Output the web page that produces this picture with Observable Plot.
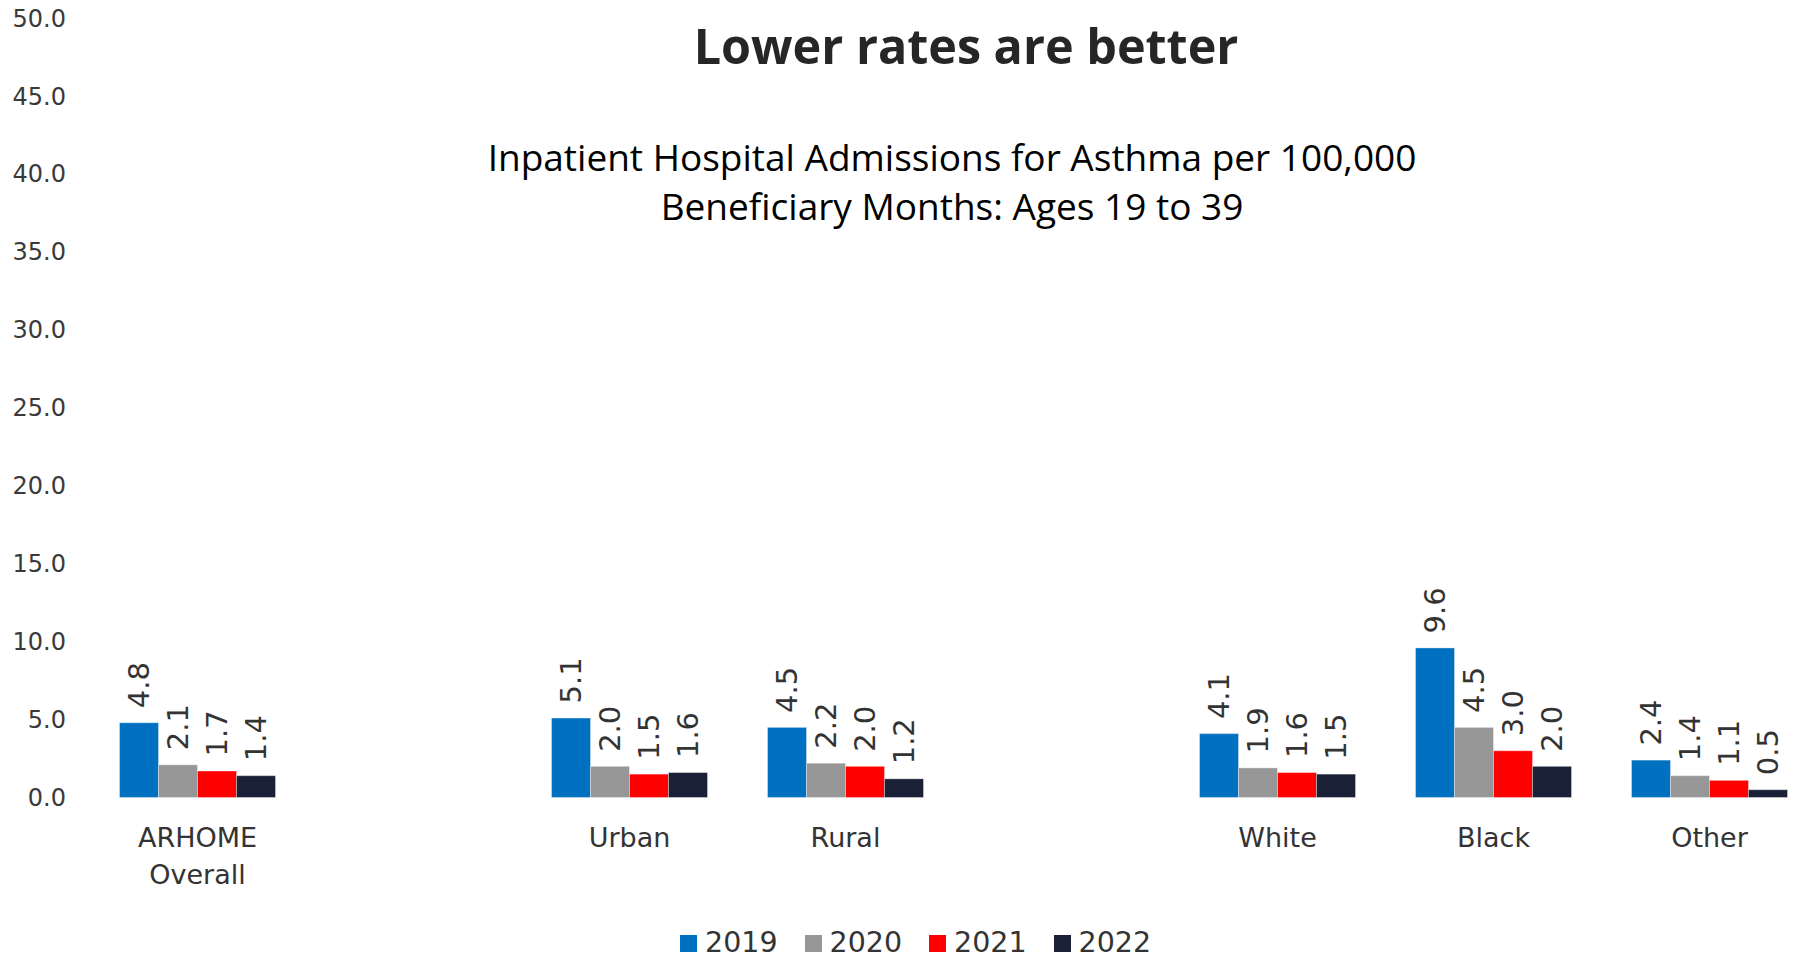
<!DOCTYPE html>
<html><head><meta charset="utf-8">
<script src="https://cdn.jsdelivr.net/npm/d3@7"></script>
<script src="https://cdn.jsdelivr.net/npm/@observablehq/plot@0.6"></script>
<style>
html,body{margin:0;padding:0;background:#fff;overflow:hidden}
#wrap{position:relative;width:1793px;height:959px;overflow:hidden}
#chart{position:absolute;left:0;top:0}
#chart svg{max-width:none !important}
.title{position:absolute;left:966px;top:21px;transform:translateX(-50%);white-space:nowrap;font-family:"Open Sans";font-weight:700;font-size:48.5px;line-height:1;color:#262626}
.subtitle{position:absolute;left:952px;top:132px;transform:translateX(-50%);white-space:nowrap;text-align:center;font-family:"Open Sans";font-size:37px;line-height:49px;color:#000}
.legend{position:absolute;left:680px;top:929px;display:flex;align-items:center;gap:27px;font-family:"DejaVu Sans";font-size:28.5px;line-height:1;color:#333}
.legend .item{display:flex;align-items:center}
.legend .sw{width:17px;height:17px;margin-right:8px}
</style></head>
<body><div id="wrap"><div id="chart"></div>
<div class="title">Lower rates are better</div>
<div class="subtitle">Inpatient Hospital Admissions for Asthma per 100,000<br>Beneficiary Months: Ages 19 to 39</div>
<div class="legend" id="legend"></div></div>
<script>
const categories = ["ARHOME Overall", "Urban", "Rural", "White", "Black", "Other"];
const slots = ["ARHOME Overall", "gap1", "Urban", "Rural", "gap2", "White", "Black", "Other"];
const slotLabels = ["ARHOME\nOverall", "", "Urban", "Rural", "", "White", "Black", "Other"];
const years = ["2019", "2020", "2021", "2022"];
const v2019 = [4.8, 5.1, 4.5, 4.1, 9.6, 2.4];
const v2020 = [2.1, 2.0, 2.2, 1.9, 4.5, 1.4];
const v2021 = [1.7, 1.5, 2.0, 1.6, 3.0, 1.1];
const v2022 = [1.4, 1.6, 1.2, 1.5, 2.0, 0.5];
const yTicks = [0, 5, 10, 15, 20, 25, 30, 35, 40, 45, 50];
const colors = ["#0070C0", "#979797", "#FF0000", "#1A2035"];

const series = [v2019, v2020, v2021, v2022];
const rows = [];
categories.forEach((cat, i) => {
  years.forEach((year, j) => rows.push({cat, year, value: series[j][i]}));
});
const labelOf = new Map(slots.map((s, i) => [s, slotLabels[i]]));

const chart = Plot.plot({
  width: 1818, height: 905,
  marginTop: 18.5, marginBottom: 107.5, marginLeft: 88.5, marginRight: 1.5,
  style: {fontFamily: "DejaVu Sans", background: "transparent", overflow: "visible", maxWidth: "none"},
  fx: {domain: slots, padding: 0, axis: null, label: null},
  x: {domain: years, paddingInner: 0, paddingOuter: 0.72, axis: null, label: null},
  y: {domain: [0, 50], label: null},
  color: {domain: years, range: colors},
  marks: [
    Plot.axisY({ticks: yTicks, tickFormat: d => d.toFixed(1), tickSize: 0, tickPadding: 23.5, fontSize: 24, color: "#3a3a3a", label: null}),
    Plot.barY(rows, {fx: "cat", x: "year", y: "value", fill: "year", stroke: "#fff", strokeOpacity: 0.35, strokeWidth: 1}),
    Plot.text(rows, {fx: "cat", x: "year", y: "value", text: d => d.value.toFixed(1), rotate: -90, textAnchor: "start", lineAnchor: "middle", dy: -15, fontSize: 29, fill: "#333"}),
    Plot.text(slots, {fx: d => d, text: d => labelOf.get(d), frameAnchor: "bottom", lineAnchor: "top", dy: 23, lineHeight: 1.36, fontSize: 27, fill: "#333"})
  ]
});
document.getElementById("chart").appendChild(chart);

const legend = document.getElementById("legend");
years.forEach((y, i) => {
  const item = document.createElement("div");
  item.className = "item";
  const sw = document.createElement("span");
  sw.className = "sw";
  sw.style.background = colors[i];
  const t = document.createElement("span");
  t.textContent = y;
  item.appendChild(sw); item.appendChild(t);
  legend.appendChild(item);
});
</script>
</body></html>
